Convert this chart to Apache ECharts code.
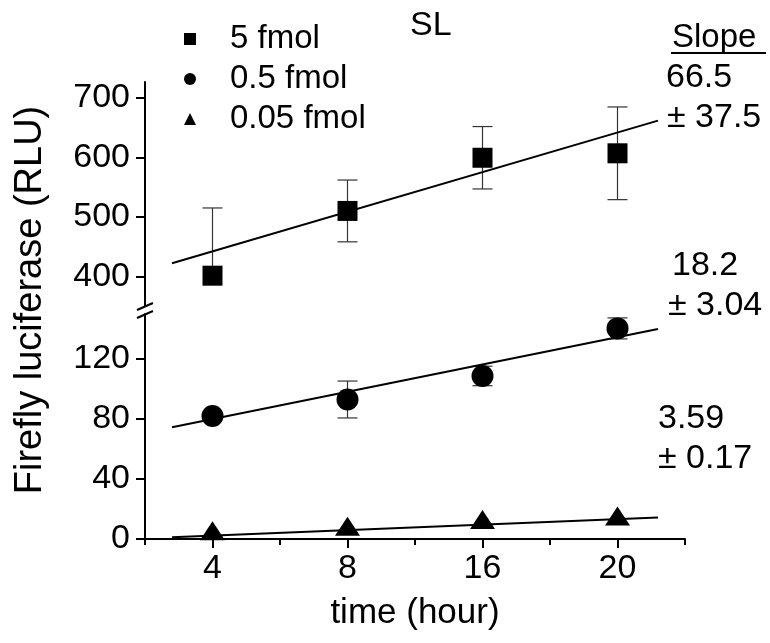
<!DOCTYPE html>
<html>
<head>
<meta charset="utf-8">
<script src="https://cdn.jsdelivr.net/npm/echarts@6/dist/echarts.min.js"></script>
<style>html,body{margin:0;padding:0;background:#fff}#c{width:770px;height:643px}</style>
</head>
<body>
<div id="c"></div>
<script>
// ---- data ----
const categories = ['4', '8', '16', '20'];          // time (hour), evenly spaced
const fmol5   = [401, 510, 599.5, 607];
const err5Hi  = [114, 52, 52.5, 78];
const err5Lo  = [0, 52, 52.5, 78];
const fmol05  = [82, 93, 108.7, 140.4];
const err05Hi = [0, 12.3, 6.5, 7];
const err05Lo = [0, 12.3, 6.5, 7];
const fmol005 = [5.5, 8.5, 13, 15.3];
// fitted lines (start/end positions in category index units, and values)
const fitX      = [-0.3, 3.3];
const fit5      = [422, 662];
const fit05     = [74.5, 140];
const fit005    = [1.2, 14.4];
const upperTicks = [400, 500, 600, 700];
const lowerTicks = [0, 40, 80, 120];
const slopes = [['66.5', '± 37.5'], ['18.2', '± 3.04'], ['3.59', '± 0.17']];

const FONT = "'Liberation Sans', Arial, sans-serif";
const chart = echarts.init(document.getElementById('c'), null, {renderer: 'canvas'});

function pts(vals) { return vals.map((v, i) => [i, v]); }
function errData(vals, lo, hi) { return vals.map((v, i) => [i, v, lo[i], hi[i]]); }
function fitData(vals) { return fitX.map((x, i) => [x, vals[i]]); }

function errRender(params, api) {
  const x = api.value(0), y = api.value(1), lo = api.value(2), hi = api.value(3);
  const c = api.coord([x, y]);
  const hw = 10;
  const style = {stroke: '#333', lineWidth: 1.2};
  const ch = [];
  if (hi > 0) {
    const t = api.coord([x, y + hi]);
    ch.push({type: 'line', shape: {x1: c[0], y1: c[1], x2: c[0], y2: t[1]}, style});
    ch.push({type: 'line', shape: {x1: c[0] - hw, y1: t[1], x2: c[0] + hw, y2: t[1]}, style});
  }
  if (lo > 0) {
    const b = api.coord([x, y - lo]);
    ch.push({type: 'line', shape: {x1: c[0], y1: c[1], x2: c[0], y2: b[1]}, style});
    ch.push({type: 'line', shape: {x1: c[0] - hw, y1: b[1], x2: c[0] + hw, y2: b[1]}, style});
  }
  return {type: 'group', children: ch};
}

const axisLineStyle = {color: '#000', width: 2};
const labelStyle = {color: '#000', fontSize: 34, fontFamily: FONT};

const graphics = [
  // axis break marks
  {type: 'line', shape: {x1: 137, y1: 310, x2: 153, y2: 303}, style: {stroke: '#000', lineWidth: 2}},
  {type: 'line', shape: {x1: 137, y1: 318, x2: 153, y2: 311}, style: {stroke: '#000', lineWidth: 2}},
  // title
  {type: 'text', x: 410, y: 26, style: {text: 'SL', font: '34px ' + FONT, fill: '#000', verticalAlign: 'middle'}},
  // y title
  {type: 'text', x: 31, y: 300, rotation: Math.PI / 2,
   style: {text: 'Firefly luciferase (RLU)', font: '38px ' + FONT, fill: '#000', align: 'center', verticalAlign: 'middle'}},
  // slope header
  {type: 'text', x: 672, y: 38, style: {text: 'Slope', font: '33px ' + FONT, fill: '#000', verticalAlign: 'middle'}},
  {type: 'line', shape: {x1: 671, y1: 53, x2: 766, y2: 53}, style: {stroke: '#000', lineWidth: 2}}
];
const slopePos = [[666, 78, 667, 118], [672, 266, 668, 306], [658, 419, 658, 459]];
slopes.forEach((s, i) => {
  const p = slopePos[i];
  graphics.push({type: 'text', x: p[0], y: p[1], style: {text: s[0], font: '34px ' + FONT, fill: '#000', verticalAlign: 'middle'}});
  graphics.push({type: 'text', x: p[2], y: p[3], style: {text: s[1], font: '34px ' + FONT, fill: '#000', verticalAlign: 'middle'}});
});

const option = {
  backgroundColor: '#fff',
  animation: false,
  grid: [
    {left: 145, top: 82, width: 540, height: 224},
    {left: 145, top: 314, width: 540, height: 225}
  ],
  legend: {
    data: ['5 fmol', '0.5 fmol', '0.05 fmol'],
    orient: 'vertical', left: 179, top: 17,
    itemWidth: 12, itemHeight: 12, itemGap: 6,
    textStyle: {color: '#000', fontSize: 33, fontFamily: FONT, lineHeight: 34, padding: [0, 0, 0, 29]},
    selectedMode: false
  },
  xAxis: [
    {gridIndex: 0, type: 'value', min: -0.5, max: 3.5, show: false},
    {gridIndex: 1, type: 'value', min: -0.5, max: 3.5,
     axisLine: {show: true, onZero: false, lineStyle: axisLineStyle},
     axisTick: {show: true, length: 6, customValues: [-0.5, 0.5, 1.5, 2.5, 3.5], lineStyle: axisLineStyle},
     axisLabel: {show: false}, splitLine: {show: false}},
    {gridIndex: 1, type: 'value', min: -0.5, max: 3.5, position: 'bottom',
     axisLine: {show: false, onZero: false},
     axisTick: {show: true, length: 9, customValues: [0, 1, 2, 3], lineStyle: axisLineStyle},
     axisLabel: Object.assign({customValues: [0, 1, 2, 3], margin: 13, formatter: v => categories[Math.round(v)]}, labelStyle),
     splitLine: {show: false},
     name: 'time (hour)', nameLocation: 'middle', nameGap: 57,
     nameTextStyle: {color: '#000', fontSize: 35, fontFamily: FONT}}
  ],
  yAxis: [
    {gridIndex: 0, type: 'value', min: 350, max: 727,
     axisLine: {show: true, onZero: false, lineStyle: axisLineStyle},
     axisTick: {show: true, length: 9, customValues: upperTicks, lineStyle: axisLineStyle},
     axisLabel: Object.assign({customValues: upperTicks, margin: 15}, labelStyle),
     splitLine: {show: false}},
    {gridIndex: 1, type: 'value', min: 0, max: 150,
     axisLine: {show: true, onZero: false, lineStyle: axisLineStyle},
     axisTick: {show: true, length: 9, customValues: lowerTicks, lineStyle: axisLineStyle},
     axisLabel: Object.assign({customValues: lowerTicks, margin: 15}, labelStyle),
     splitLine: {show: false}}
  ],
  series: [
    {type: 'custom', name: 'err5', xAxisIndex: 0, yAxisIndex: 0, renderItem: errRender,
     encode: {x: 0, y: 1}, data: errData(fmol5, err5Lo, err5Hi), z: 1, clip: false},
    {type: 'custom', name: 'err05', xAxisIndex: 1, yAxisIndex: 1, renderItem: errRender,
     encode: {x: 0, y: 1}, data: errData(fmol05, err05Lo, err05Hi), z: 1, clip: false},
    {type: 'line', name: 'fit5', xAxisIndex: 0, yAxisIndex: 0, data: fitData(fit5), symbol: 'none',
     lineStyle: {color: '#000', width: 2}, z: 2},
    {type: 'line', name: 'fit05', xAxisIndex: 1, yAxisIndex: 1, data: fitData(fit05), symbol: 'none',
     lineStyle: {color: '#000', width: 2}, z: 2},
    {type: 'line', name: 'fit005', xAxisIndex: 1, yAxisIndex: 1, data: fitData(fit005), symbol: 'none',
     lineStyle: {color: '#000', width: 2}, z: 2},
    {type: 'scatter', name: '5 fmol', xAxisIndex: 0, yAxisIndex: 0, data: pts(fmol5),
     symbol: 'rect', symbolSize: 20, itemStyle: {color: '#000', opacity: 1}, z: 3},
    {type: 'scatter', name: '0.5 fmol', xAxisIndex: 1, yAxisIndex: 1, data: pts(fmol05),
     symbol: 'circle', symbolSize: 22, itemStyle: {color: '#000', opacity: 1}, z: 3},
    {type: 'scatter', name: '0.05 fmol', xAxisIndex: 1, yAxisIndex: 1, data: pts(fmol005),
     symbol: 'triangle', symbolSize: [25, 19], itemStyle: {color: '#000', opacity: 1}, z: 3}
  ],
  graphic: graphics
};
chart.setOption(option);
</script>
</body>
</html>
